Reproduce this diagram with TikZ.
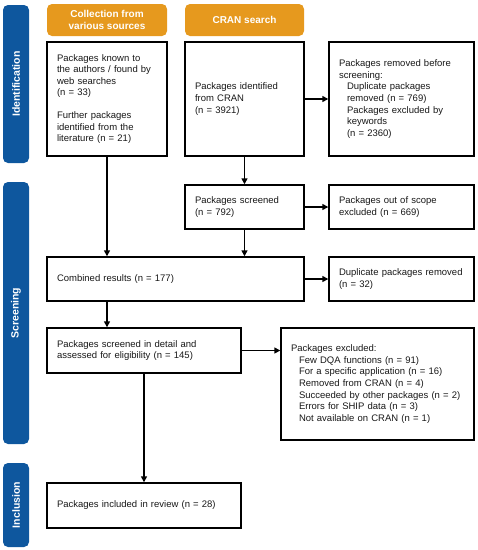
\documentclass[tikz,border=0pt]{standalone}
\usepackage{fontspec}
\setmainfont{Liberation Sans}
\usetikzlibrary{arrows.meta}
\definecolor{hdr}{RGB}{230,153,30}
\definecolor{side}{RGB}{14,87,158}
\definecolor{txt}{RGB}{25,25,25}
\tikzset{
  hdrbox/.style={fill=hdr, draw=none, rounded corners=5pt, text=white, font=\fontsize{10}{12}\selectfont\bfseries, align=center, inner sep=0pt},
  sidebox/.style={fill=side, draw=none, rounded corners=5pt, text=white, font=\fontsize{10.5}{12}\selectfont\bfseries, rotate=90, inner sep=0pt},
  flowbox/.style={draw=black, line width=1.4pt, fill=white, text=txt, font=\fontsize{9.5}{11.6}\selectfont, align=left, inner xsep=10pt, inner ysep=0pt},
  flow/.style={line width=1.4pt, -{Triangle[length=6pt,width=6pt]}},
}
\newcommand{\ind}{\hspace*{8pt}}
\begin{document}
\begin{tikzpicture}[x=1pt,y=-1pt]
\useasboundingbox (0,0) rectangle (478,550);
% sidebars
\node[sidebox, minimum width=158pt, minimum height=26pt] (sI) at (16,84) {Identification};
\node[sidebox, minimum width=262pt, minimum height=26pt] (sS) at (16,313) {Screening};
\node[sidebox, minimum width=84pt, minimum height=26pt] (sN) at (16,505) {Inclusion};
% headers
\node[hdrbox, minimum width=120pt, minimum height=32pt] (hA) at (107,20) {Collection from\\various sources};
\node[hdrbox, minimum width=119pt, minimum height=32pt] (hB) at (244.5,20) {CRAN search};
% boxes
\node[flowbox, text width=100pt, minimum height=114pt] (b1) at (107,99) {Packages known to\\the authors / found by\\web searches\\(n = 33)\\[11pt]Further packages\\identified from the\\literature (n = 21)};
\node[flowbox, text width=99pt, minimum height=114pt] (b2) at (244.5,99) {Packages identified\\from CRAN\\(n = 3921)};
\node[flowbox, text width=125pt, minimum height=114pt] (b3) at (401.5,99) {Packages removed before\\screening:\\\ind Duplicate packages\\\ind removed (n = 769)\\\ind Packages excluded by\\\ind keywords\\\ind (n = 2360)};
\node[flowbox, text width=99pt, minimum height=44pt] (b4) at (244.5,207) {Packages screened\\(n = 792)};
\node[flowbox, text width=125pt, minimum height=44pt] (b5) at (401.5,207) {Packages out of scope\\excluded (n = 669)};
\node[flowbox, text width=237pt, minimum height=44pt] (b6) at (175.5,279) {Combined results (n = 177)};
\node[flowbox, text width=125pt, minimum height=44pt] (b7) at (401.5,279) {Duplicate packages removed\\(n = 32)};
\node[flowbox, text width=174pt, minimum height=45pt] (b8) at (144,350.5) {Packages screened in detail and\\assessed for eligibility (n = 145)};
\node[flowbox, text width=173pt, minimum height=112pt] (b9) at (377.5,384) {Packages excluded:\\\ind Few DQA functions (n = 91)\\\ind For a specific application (n = 16)\\\ind Removed from CRAN (n = 4)\\\ind Succeeded by other packages (n = 2)\\\ind Errors for SHIP data (n = 3)\\\ind Not available on CRAN (n = 1)};
\node[flowbox, text width=174pt, minimum height=45pt] (b10) at (144,505.5) {Packages included in review (n = 28)};
% connectors
\draw[flow] (b2.east) -- (b3.west);
\draw[flow] (b2.south) -- (b4.north);
\draw[flow] (b4.east) -- (b5.west);
\draw[flow] (b4.south) -- (b4.south |- b6.north);
\draw[flow] (b1.south) -- (b1.south |- b6.north);
\draw[flow] (b6.east) -- (b7.west);
\draw[flow] (b1.south |- b6.south) -- (b1.south |- b8.north);
\draw[flow] (b8.east) -- (b8.east -| b9.west);
\draw[flow] (b8.south) -- (b10.north);
\end{tikzpicture}
\end{document}
